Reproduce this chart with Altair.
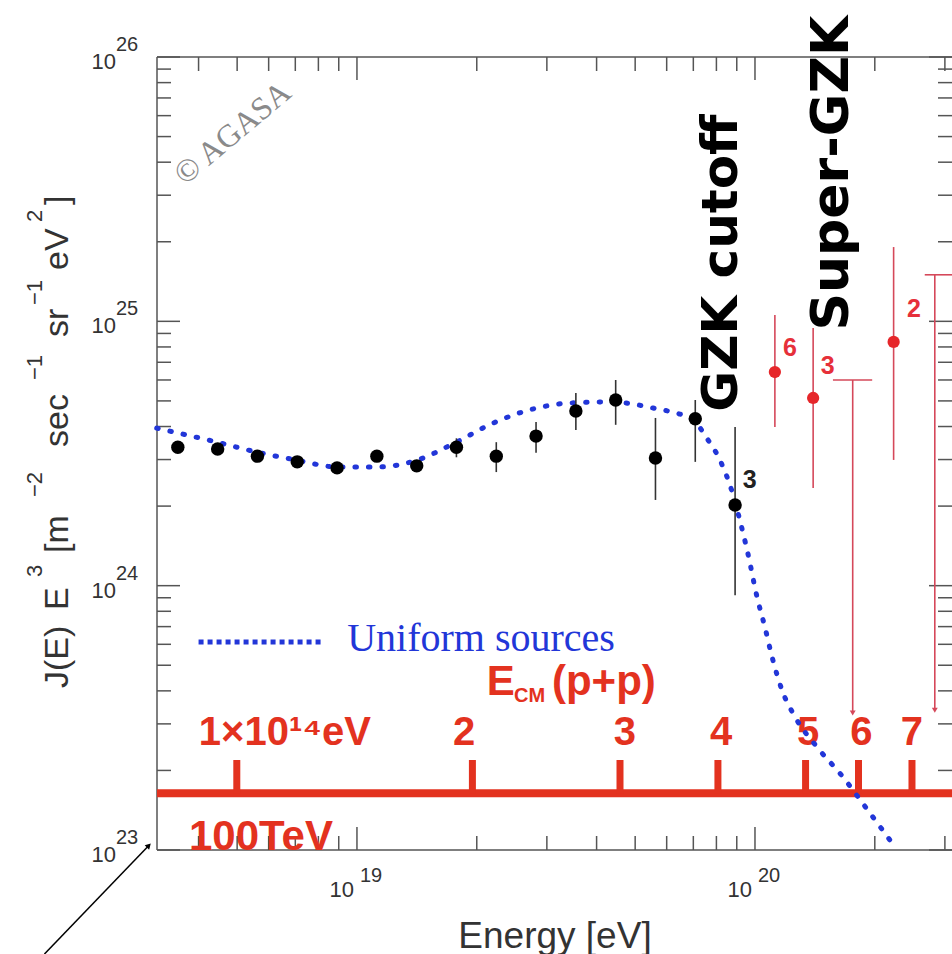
import altair as alt
import pandas as pd

# ---------------- data ----------------
# AGASA spectrum (black points)
energy = [3.548e18, 4.467e18, 5.623e18, 7.079e18, 8.913e18, 1.122e19, 1.413e19, 1.778e19,
          2.239e19, 2.818e19, 3.548e19, 4.467e19, 5.623e19, 7.079e19, 8.913e19]
flux = [3.34e24, 3.29e24, 3.09e24, 2.94e24, 2.79e24, 3.09e24, 2.84e24, 3.34e24,
        3.09e24, 3.68e24, 4.58e24, 5.04e24, 3.04e24, 4.28e24, 2.02e24]
flux_lo = [3.22e24, 3.17e24, 2.97e24, 2.82e24, 2.67e24, 2.95e24, 2.70e24, 3.06e24,
           2.69e24, 3.18e24, 3.88e24, 4.06e24, 2.11e24, 2.94e24, 9.2e23]
flux_hi = [3.46e24, 3.41e24, 3.21e24, 3.06e24, 2.91e24, 3.23e24, 2.98e24, 3.61e24,
           3.49e24, 4.16e24, 5.36e24, 6.00e24, 4.31e24, 5.04e24, 3.98e24]

# super-GZK events (red points)
sg_energy = [1.122e20, 1.40e20, 2.23e20]
sg_flux = [6.43e24, 5.13e24, 8.36e24]
sg_lo = [3.98e24, 2.34e24, 2.99e24]
sg_hi = [1.057e25, 9.44e24, 1.91e25]
sg_count = ["6", "3", "2"]
sg_label_e = [1.225e20, 1.524e20, 2.51e20]
sg_label_f = [7.93e24, 6.78e24, 1.11e25]

# upper limits
ul_energy = [1.76e20, 2.83e20]
ul_flux = [6.0e24, 1.50e25]
ul_bottom = [3.30e23, 3.38e23]
ul_cap_lo = [1.57e20, 2.67e20]
ul_cap_hi = [1.97e20, 3.13e20]

# uniform sources model curve
model_e = [3.14e18, 4.45e18, 5.61e18, 7.06e18, 8.91e18, 1.122e19, 1.416e19, 1.762e19,
           2.198e19, 2.831e19, 3.428e19, 4.325e19, 5.546e19, 6.982e19, 7.568e19, 8.166e19,
           8.810e19, 9.162e19, 9.594e19, 1.012e20, 1.059e20, 1.104e20, 1.169e20, 1.262e20,
           1.432e20, 1.663e20, 1.866e20, 2.183e20]
model_f = [3.945e24, 3.491e24, 3.199e24, 2.985e24, 2.812e24, 2.812e24, 2.985e24, 3.467e24,
           4.121e24, 4.699e24, 4.909e24, 4.955e24, 4.699e24, 4.236e24, 3.614e24, 2.985e24,
           2.203e24, 1.770e24, 1.327e24, 9.06e23, 6.97e23, 5.37e23, 4.03e23, 3.18e23,
           2.45e23, 1.89e23, 1.50e23, 1.09e23]

# E_CM(p+p) scale
ecm_tick_e = [4.99e18, 1.95e19, 4.58e19, 8.07e19, 1.34e20, 1.82e20, 2.48e20]
ecm_labels = ["1×10¹⁴eV", "2", "3", "4", "5", "6", "7"]
ecm_label_e = [6.59e18, 1.86e19, 4.71e19, 8.22e19, 1.36e20, 1.85e20, 2.48e20]
ecm_bar_f = [1.64e23]
ecm_tick_top = [2.19e23]
ecm_label_f = [2.77e23]

# axis ticks
x_major = [1e19, 1e20]
x_major_exp = ["19", "20"]
x_minor = [4e18, 5e18, 6e18, 7e18, 8e18, 9e18, 2e19, 3e19, 4e19, 5e19, 6e19, 7e19, 8e19,
           9e19, 2e20, 3e20]
y_major = [1e23, 1e24, 1e25, 1e26]
y_major_exp = ["23", "24", "25", "26"]
y_minor = [2e23, 3e23, 4e23, 5e23, 6e23, 7e23, 8e23, 9e23,
           2e24, 3e24, 4e24, 5e24, 6e24, 7e24, 8e24, 9e24,
           2e25, 3e25, 4e25, 5e25, 6e25, 7e25, 8e25, 9e25]

# y-axis title pieces (text, superscript?)
ytitle_text = ["J(E)", "E", "3", "[m", "−2", "sec", "−1", "sr", "−1", "eV", "2", "]"]
ytitle_sup = [False, False, True, False, True, False, True, False, True, False, True, False]

# ---------------- styling / layout ----------------
W, H = 795, 793
RED = "#e3321f"
PINK = "#d5485a"
BLUE = "#2236d8"
FRAME = "#555555"
TXT = "#333333"
SANS = "Liberation Sans"
# pixel start (bottom end) of each rotated y-title piece
YTITLE_START = [688, 610, 577, 553, 497, 447, 380, 337, 305, 270, 222, 205]

xs = alt.Scale(type="log", domain=[3.145e18, 3.126e20], nice=False)
ys = alt.Scale(type="log", domain=[1e23, 1e26], nice=False)
xax = alt.Axis(title="Energy [eV]", labels=False, ticks=False, domain=False, grid=False,
               titleFont=SANS, titleFontSize=37, titleFontWeight="normal", titleColor=TXT,
               titleX=W / 2, titleY=86, titleBaseline="middle", titleAlign="center")


def ex(f):
    return alt.X(f, type="quantitative", scale=xs, axis=xax)


def ey(f):
    return alt.Y(f, type="quantitative", scale=ys, axis=None)


one = pd.DataFrame({"a": [0]})
pts = pd.DataFrame({"e": energy, "f": flux, "lo": flux_lo, "hi": flux_hi})
sg = pd.DataFrame({"e": sg_energy, "f": sg_flux, "lo": sg_lo, "hi": sg_hi,
                   "t": sg_count, "le": sg_label_e, "lf": sg_label_f})
ul = pd.DataFrame({"e": ul_energy, "f": ul_flux, "b": ul_bottom, "c0": ul_cap_lo, "c1": ul_cap_hi})
model = pd.DataFrame({"e": model_e, "f": model_f})
ecm = pd.DataFrame({"e": ecm_tick_e, "b": ecm_bar_f * len(ecm_tick_e),
                    "t": ecm_tick_top * len(ecm_tick_e)})
ecm_lab = pd.DataFrame({"e": ecm_label_e, "f": ecm_label_f * len(ecm_label_e), "t": ecm_labels})
xmaj = pd.DataFrame({"v": x_major, "t": x_major_exp})
xmin = pd.DataFrame({"v": x_minor})
ymaj = pd.DataFrame({"v": y_major, "t": y_major_exp})
ymin = pd.DataFrame({"v": y_minor})

layers = []

# frame
layers.append(alt.Chart(one).mark_rule(color=FRAME, strokeWidth=1.5).encode(
    x=alt.value(0), y=alt.value(0), y2=alt.value(H)))
layers.append(alt.Chart(one).mark_rule(color=FRAME, strokeWidth=1.5).encode(
    x=alt.value(0), x2=alt.value(W), y=alt.value(H)))
layers.append(alt.Chart(one).mark_rule(color=FRAME, strokeWidth=1.5).encode(
    x=alt.value(0), x2=alt.value(W), y=alt.value(0)))

# ticks (inward), major 23 px, minor 14 px
for df, ln in ((xmaj, 23), (xmin, 14)):
    layers.append(alt.Chart(df).mark_rule(color=FRAME, strokeWidth=1.5).encode(
        x=ex("v"), y=alt.value(H), y2=alt.value(H - ln)))
    layers.append(alt.Chart(df).mark_rule(color=FRAME, strokeWidth=1.5).encode(
        x=ex("v"), y=alt.value(0), y2=alt.value(ln)))
for df, ln in ((ymaj, 23), (ymin, 14)):
    layers.append(alt.Chart(df).mark_rule(color=FRAME, strokeWidth=1.5).encode(
        y=ey("v"), x=alt.value(0), x2=alt.value(ln)))
    layers.append(alt.Chart(df).mark_rule(color=FRAME, strokeWidth=1.5).encode(
        y=ey("v"), x=alt.value(W), x2=alt.value(W - ln)))

# tick labels 10^n
layers.append(alt.Chart(ymaj).mark_text(font=SANS, fontSize=22, color=TXT, align="right",
                                        baseline="middle", dy=5).encode(
    y=ey("v"), x=alt.value(-41), text=alt.value("10")))
layers.append(alt.Chart(ymaj).mark_text(font=SANS, fontSize=20, color=TXT, align="left",
                                        baseline="middle", dy=-12).encode(
    y=ey("v"), x=alt.value(-41), text="t:N"))
layers.append(alt.Chart(xmaj).mark_text(font=SANS, fontSize=22, color=TXT, align="right",
                                        baseline="middle", dx=-3).encode(
    x=ex("v"), y=alt.value(H + 40), text=alt.value("10")))
layers.append(alt.Chart(xmaj).mark_text(font=SANS, fontSize=20, color=TXT, align="left",
                                        baseline="middle", dx=3).encode(
    x=ex("v"), y=alt.value(H + 26), text="t:N"))

# y-axis title, built from rotated pieces
for txt, sup, y0 in zip(ytitle_text, ytitle_sup, YTITLE_START):
    layers.append(alt.Chart(one).mark_text(
        font=SANS, fontSize=22 if sup else 34, color=TXT, angle=270, align="left",
        baseline="alphabetic").encode(
        x=alt.value(-115 if sup else -89), y=alt.value(y0 - 57), text=alt.value(txt)))

# E_CM scale
layers.append(alt.Chart(ecm.head(1)).mark_rule(color=RED, strokeWidth=8).encode(
    y=ey("b"), x=alt.value(0), x2=alt.value(W)))
layers.append(alt.Chart(ecm).mark_rule(color=RED, strokeWidth=7).encode(
    x=ex("e"), y=ey("b"), y2=alt.Y2("t")))
layers.append(alt.Chart(ecm_lab).mark_text(font=SANS, fontSize=40, fontWeight="bold",
                                           color=RED, align="center",
                                           baseline="middle").encode(
    x=ex("e"), y=ey("f"), text="t:N"))
tev = pd.DataFrame({"e": [5.74e18], "f": [1.12e23], "t": ["100TeV"]})
layers.append(alt.Chart(tev).mark_text(font=SANS, fontSize=42, fontWeight="bold", color=RED,
                                       align="center", baseline="middle").encode(
    x=ex("e"), y=ey("f"), text="t:N"))
ecm_title = pd.DataFrame({"e": [2.12e19, 2.48e19, 3.09e19], "f": [4.33e23, 3.83e23, 4.33e23],
                          "t": ["E", "CM", "(p+p)"]})
ecm_sizes = [42, 20, 42]
for i in range(3):
    layers.append(alt.Chart(ecm_title.iloc[[i]]).mark_text(
        font=SANS, fontSize=ecm_sizes[i], fontWeight="bold", color=RED, align="left",
        baseline="middle").encode(x=ex("e"), y=ey("f"), text="t:N"))

# model curve + legend
layers.append(alt.Chart(model).mark_line(color=BLUE, strokeWidth=5, strokeDash=[1.5, 12],
                                         strokeCap="round",
                                         interpolate="monotone").encode(
    x=ex("e"), y=ey("f")))
leg = pd.DataFrame({"e": [4.0e18, 8.2e18], "f": [6.12e23, 6.12e23]})
layers.append(alt.Chart(leg).mark_line(color=BLUE, strokeWidth=5, strokeDash=[5, 4]).encode(
    x=ex("e"), y=ey("f")))
legt = pd.DataFrame({"e": [9.45e18], "f": [6.3e23], "t": ["Uniform sources"]})
layers.append(alt.Chart(legt).mark_text(font="Liberation Serif", fontSize=40, color=BLUE,
                                        align="left", baseline="middle").encode(
    x=ex("e"), y=ey("f"), text="t:N"))

# black data
layers.append(alt.Chart(pts).mark_rule(color="#333333", strokeWidth=1.6).encode(
    x=ex("e"), y=ey("lo"), y2=alt.Y2("hi")))
layers.append(alt.Chart(pts).mark_point(filled=True, color="black", opacity=1,
                                        size=180).encode(x=ex("e"), y=ey("f")))
b3 = pd.DataFrame({"e": [9.7e19], "f": [2.51e24], "t": ["3"]})
layers.append(alt.Chart(b3).mark_text(font=SANS, fontSize=25, fontWeight="bold",
                                      color="#222222", align="center",
                                      baseline="middle").encode(
    x=ex("e"), y=ey("f"), text="t:N"))

# red data
layers.append(alt.Chart(sg).mark_rule(color=PINK, strokeWidth=1.6).encode(
    x=ex("e"), y=ey("lo"), y2=alt.Y2("hi")))
layers.append(alt.Chart(sg).mark_point(filled=True, color="#e6262a", opacity=1,
                                       size=150).encode(x=ex("e"), y=ey("f")))
layers.append(alt.Chart(sg).mark_text(font=SANS, fontSize=25, fontWeight="bold",
                                      color="#e6303a", align="center",
                                      baseline="middle").encode(
    x=ex("le"), y=ey("lf"), text="t:N"))

# upper limits
layers.append(alt.Chart(ul).mark_rule(color=PINK, strokeWidth=1.6).encode(
    x=ex("e"), y=ey("b"), y2=alt.Y2("f")))
layers.append(alt.Chart(ul).mark_rule(color=PINK, strokeWidth=1.6).encode(
    x=ex("c0"), x2=alt.X2("c1"), y=ey("f")))
layers.append(alt.Chart(ul).mark_point(shape="triangle-down", filled=True, color=PINK,
                                       opacity=1, size=35, dy=-3).encode(
    x=ex("e"), y=ey("b")))

# annotations
gzk = pd.DataFrame({"e": [9.02e19], "f": [1.66e25], "t": ["GZK cutoff"]})
layers.append(alt.Chart(gzk).mark_text(font="DejaVu Sans", fontSize=50, fontWeight="bold",
                                       color="black", angle=270, align="center",
                                       baseline="alphabetic").encode(
    x=ex("e"), y=ey("f"), text="t:N"))
sgz = pd.DataFrame({"e": [1.71e20], "f": [3.64e25], "t": ["Super-GZK"]})
layers.append(alt.Chart(sgz).mark_text(font="DejaVu Sans", fontSize=52, fontWeight="bold",
                                       color="black", angle=270, align="center",
                                       baseline="alphabetic").encode(
    x=ex("e"), y=ey("f"), text="t:N"))
cop = pd.DataFrame({"e": [4.87e18], "f": [5.15e25], "t": ["© AGASA"]})
layers.append(alt.Chart(cop).mark_text(font="Liberation Serif", fontSize=32, color="#8a8a8a",
                                       angle=320, align="center",
                                       baseline="middle").encode(
    x=ex("e"), y=ey("f"), text="t:N"))

# pointer arrow to the 10^23 corner
arr = pd.DataFrame({"e0": [1.64e18], "f0": [4.04e22], "e1": [3.0e18], "f1": [1.04e23]})
layers.append(alt.Chart(arr).mark_rule(color="black", strokeWidth=1.5).encode(
    x=ex("e0"), y=ey("f0"), x2=alt.X2("e1"), y2=alt.Y2("f1")))
layers.append(alt.Chart(arr).mark_point(shape="triangle-up", angle=45, filled=True,
                                        color="black", opacity=1, size=40).encode(
    x=ex("e1"), y=ey("f1")))

chart = alt.layer(*layers).properties(
    width=W, height=H, autosize="none",
    padding={"left": 157, "top": 57, "right": 0, "bottom": 104},
    background="white",
).configure_view(stroke=None)

chart.save("out.html", embed_options={"renderer": "svg", "actions": False})
